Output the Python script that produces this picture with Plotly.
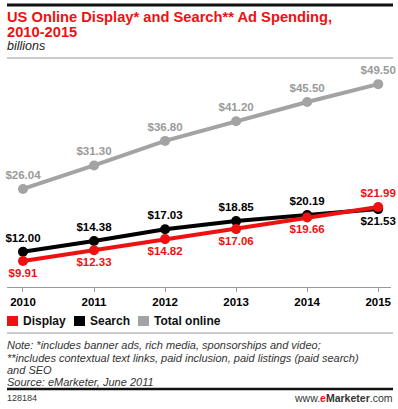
import plotly.graph_objects as go

years = [2010, 2011, 2012, 2013, 2014, 2015]
display = [9.91, 12.33, 14.82, 17.06, 19.66, 21.99]
search = [12.00, 14.38, 17.03, 18.85, 20.19, 21.53]
total = [26.04, 31.30, 36.80, 41.20, 45.50, 49.50]

display_pos = ["bottom center"] * 5 + ["top center"]
search_pos = ["top center"] * 5 + ["bottom center"]
total_pos = ["top center"] * 6

RED = "#ee1111"
BLACK = "#000000"
GRAY = "#a3a3a3"
GRAY_TXT = "#9a9a9a"
FONT = "Liberation Sans, Arial, sans-serif"

W, H = 398, 409
L, R, T, B = 7, 391, 60, 287  # plot area in pixels


def px(x):
    return (x - L) / (R - L)


def py(y):
    return (B - y) / (B - T)


fig = go.Figure()

for name, vals, col, tcol, pos in [
    ("Total online", total, GRAY, GRAY_TXT, total_pos),
    ("Search", search, BLACK, BLACK, search_pos),
    ("Display", display, RED, RED, display_pos),
]:
    fig.add_trace(go.Scatter(
        x=years, y=vals, name=name, mode="lines+markers+text",
        line=dict(color=col, width=4),
        marker=dict(color=col, size=10),
        text=["<b>$%.2f</b>" % v for v in vals],
        textposition=pos,
        textfont=dict(family=FONT, size=11.5, color=tcol),
        showlegend=False, cliponaxis=False,
    ))

fig.update_xaxes(
    range=[2009.775, 2015.18], tickvals=years,
    ticktext=["<b>%d</b>" % y for y in years],
    tickfont=dict(family=FONT, size=11.5, color="#000"),
    showline=True, linecolor="#999", linewidth=1,
    ticks="outside", ticklen=4, tickcolor="#999",
    showgrid=False, zeroline=False, fixedrange=True,
)
fig.update_yaxes(range=[4.1, 54.9], visible=False, showgrid=False, fixedrange=True)

shapes = [
    dict(type="line", xref="paper", yref="paper", x0=px(7), x1=px(393), y0=py(5), y1=py(5),
         line=dict(color="#111", width=3)),
    dict(type="line", xref="paper", yref="paper", x0=px(7), x1=px(393), y0=py(58), y1=py(58),
         line=dict(color="#cccccc", width=2)),
    dict(type="line", xref="paper", yref="paper", x0=px(7), x1=px(393), y0=py(333), y1=py(333),
         line=dict(color="#999999", width=1)),
    dict(type="line", xref="paper", yref="paper", x0=px(7), x1=px(393), y0=py(389), y1=py(389),
         line=dict(color="#111", width=2.5)),
]
legend_items = [("Display", RED, 7, 21), ("Search", BLACK, 74, 88), ("Total online", GRAY, 138, 152)]
annotations = []
for lab, col, sx, tx in legend_items:
    shapes.append(dict(type="rect", xref="paper", yref="paper", x0=px(sx), x1=px(sx + 11),
                       y0=py(326), y1=py(316), fillcolor=col, line=dict(width=0)))
    annotations.append(dict(text="<b>%s</b>" % lab, x=px(tx), y=py(321), xref="paper", yref="paper",
                            xanchor="left", yanchor="middle", showarrow=False,
                            font=dict(family=FONT, size=12, color="#111")))


def txt(s, x, y, size, color="#222", anchor="left"):
    annotations.append(dict(text=s, x=px(x), y=py(y), xref="paper", yref="paper",
                            xanchor=anchor, yanchor="middle", showarrow=False,
                            font=dict(family=FONT, size=size, color=color)))


txt("<b>US Online Display* and Search** Ad Spending,</b>", 5, 17, 14.7, RED)
txt("<b>2010-2015</b>", 5, 31.5, 14.7, RED)
txt("<i>billions</i>", 5, 46, 12.5, "#222")
txt("<i>Note: *includes banner ads, rich media, sponsorships and video;</i>", 5, 345, 11, "#333")
txt("<i>**includes contextual text links, paid inclusion, paid listings (paid search)</i>", 5, 358, 11, "#333")
txt("<i>and SEO</i>", 5, 370, 11, "#333")
txt("<i>Source: eMarketer, June 2011</i>", 5, 382, 11, "#333")
txt("128184", 5, 398, 9, "#333")
txt("www.<b><span style='color:%s'>e</span>Marketer</b>.com" % RED, 395, 398, 10.5, "#333", "right")

fig.update_layout(
    width=W, height=H,
    margin=dict(l=L, r=W - R, t=T, b=H - B),
    paper_bgcolor="white", plot_bgcolor="white",
    shapes=shapes, annotations=annotations,
    showlegend=False,
)

fig.write_html(
    "out.html",
    config={"displayModeBar": False},
    post_script="document.body.style.margin='0';document.body.style.overflow='hidden';",
)
